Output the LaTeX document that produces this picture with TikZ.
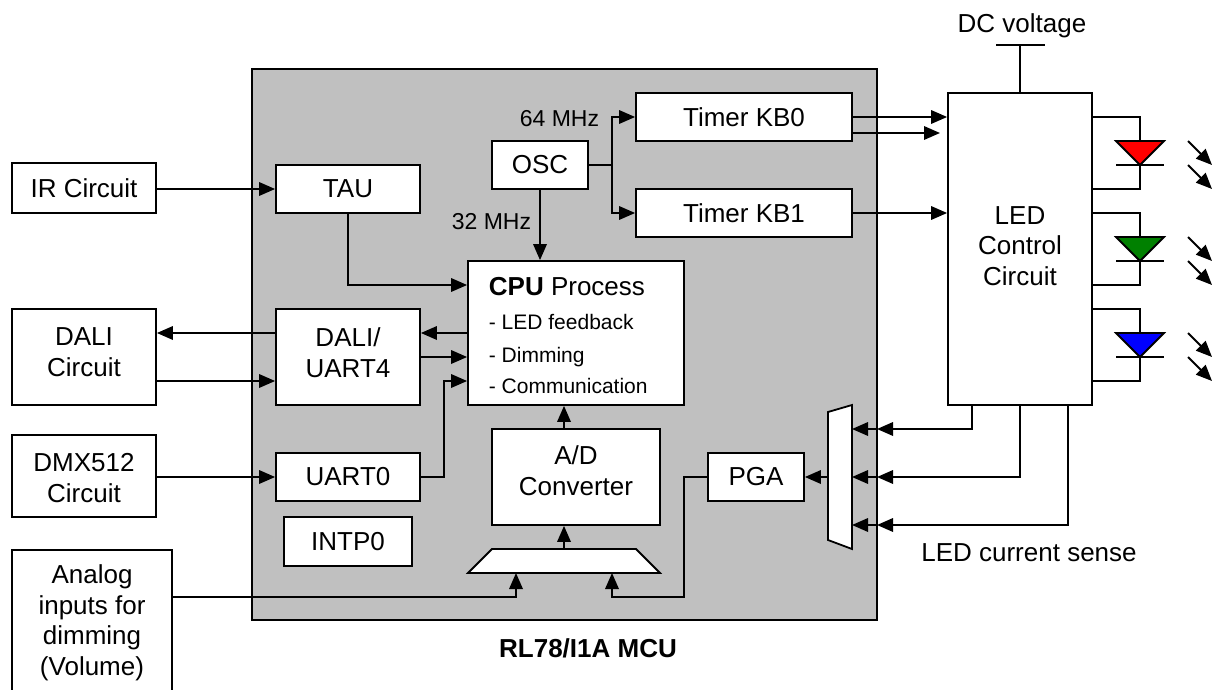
\documentclass[tikz,border=0pt]{standalone}
\usepackage{fontspec}
\setmainfont{Liberation Sans}
\usetikzlibrary{arrows.meta}
\definecolor{mcugray}{HTML}{C0C0C0}
\definecolor{ledred}{HTML}{FF0000}
\definecolor{ledgreen}{HTML}{008000}
\definecolor{ledblue}{HTML}{0000FF}
\newcommand\dgBig{\fontsize{26}{30.5}\selectfont}
\newcommand\dgMid{\fontsize{23}{27}\selectfont}
\newcommand\dgSmall{\fontsize{21}{25}\selectfont}
\begin{document}
\begin{tikzpicture}[x=1pt,y=-1pt,line width=1.8pt,
  box/.style={draw,fill=white,inner sep=0pt,font=\dgBig,align=center},
  lbl/.style={inner sep=0pt,font=\dgBig,align=center},
  arr/.style={-{Triangle[length=16pt,width=13.5pt]}}]
\useasboundingbox (0,0) rectangle (1213,690);
\clip (0,0) rectangle (1213,690);
% MCU
\node[draw,fill=mcugray,inner sep=0pt,minimum width=625pt,minimum height=551pt] (mcu) at (564.5,344.5) {};
\node[lbl,anchor=base,font=\dgBig\bfseries] (mculbl) at (588,657) {RL78/I1A MCU};
% boxes
\node[box,minimum width=144pt,minimum height=50pt] (ir) at (84,188) {IR Circuit};
\node[box,minimum width=144pt,minimum height=48pt] (tau) at (348,189) {TAU};
\node[box,minimum width=144pt,minimum height=96pt] (dalic) at (84,357) {};
\node[lbl,anchor=base] (dalictxt) at (84,376) {DALI\\Circuit};
\node[box,minimum width=144pt,minimum height=96pt] (dali) at (348,357) {};
\node[lbl,anchor=base] (dalitxt) at (348,377) {DALI/\\UART4};
\node[box,minimum width=144pt,minimum height=82pt] (dmx) at (84,476) {};
\node[lbl,anchor=base] (dmxtxt) at (84,502) {DMX512\\Circuit};
\node[box,minimum width=144pt,minimum height=48pt] (uart0) at (348,477) {UART0};
\node[box,minimum width=128pt,minimum height=49pt] (intp) at (348,541.5) {INTP0};
\node[box,minimum width=160pt,minimum height=144pt] (analog) at (92,622) {};
\node[lbl,anchor=base] (analogtxt) at (92,675) {Analog\\inputs for\\dimming\\(Volume)};
\node[box,minimum width=96pt,minimum height=48pt] (osc) at (540,165) {OSC};
\node[box,minimum width=216pt,minimum height=48pt] (kb0) at (744,117) {Timer KB0};
\node[box,minimum width=216pt,minimum height=48pt] (kb1) at (744,213) {Timer KB1};
\node[box,minimum width=216pt,minimum height=144pt] (cpu) at (576,333) {};
\node[inner sep=0pt,anchor=base west,font=\dgBig] (cputitle) at (488,295) {\textbf{CPU} Process};
\node[inner sep=0pt,anchor=base west,font=\dgSmall] (cpu1) at (488,329) {- LED feedback};
\node[inner sep=0pt,anchor=base west,font=\dgSmall] (cpu2) at (488,362) {- Dimming};
\node[inner sep=0pt,anchor=base west,font=\dgSmall] (cpu3) at (488,393) {- Communication};
\node[box,minimum width=168pt,minimum height=96pt] (adc) at (576,477) {};
\node[lbl,anchor=base] (adctxt) at (576,495) {A/D\\Converter};
\node[box,minimum width=96pt,minimum height=48pt] (pga) at (756,477) {PGA};
\node[box,minimum width=144pt,minimum height=312pt] (led) at (1020,249) {};
\node[lbl,anchor=base] (ledtxt) at (1020,285) {LED\\Control\\Circuit};
% clock labels
\node[inner sep=0pt,anchor=base east,font=\dgMid] (f64) at (600,127) {64 MHz};
\node[inner sep=0pt,anchor=base east,font=\dgMid] (f32) at (532,229) {32 MHz};
% DC voltage
\coordinate (dctop) at (1020,45);
\draw (led.north) -- (dctop);
\draw (996,45) -- (1045,45);
\node[lbl,anchor=base] (dclbl) at (1022,33) {DC voltage};
\node[lbl,anchor=base] (senselbl) at (1029,561) {LED current sense};
% connectors left
\draw[arr] (ir.east |- tau.west) -- (tau.west);
\draw[arr] (tau.south) |- (cpu.west |- 0,285);
\draw[arr] (osc.south) -- (osc.south |- cpu.north);
\coordinate (oscsplit) at (612,165);
\draw (osc.east) -- (oscsplit);
\draw[arr] (oscsplit) |- (kb0.west);
\draw[arr] (oscsplit) |- (kb1.west);
\draw[arr] (kb0.east |- 0,117) -- (led.west |- 0,117);
\coordinate (kb0end) at (940,133);
\draw[arr] (kb0.east |- kb0end) -- (kb0end);
\draw[arr] (kb1.east) -- (led.west |- kb1.east);
\draw[arr] (cpu.west |- 0,333) -- (dali.east |- 0,333);
\draw[arr] (dali.east |- 0,357) -- (cpu.west |- 0,357);
\coordinate (u0bend) at (444,381);
\draw[arr] (uart0.east) -| (u0bend) -- (cpu.west |- u0bend);
\draw[arr] (dali.west |- 0,333) -- (dalic.east |- 0,333);
\draw[arr] (dalic.east |- 0,381) -- (dali.west |- 0,381);
\draw[arr] (dmx.east |- uart0.west) -- (uart0.west);
% analog mux
\draw[fill=white] (468,573) -- (492,549) -- (636,549) -- (660,573) -- cycle;
\coordinate (amuxin1) at (516,573);
\coordinate (amuxin2) at (612,573);
\coordinate (amuxout) at (564,549);
\draw[arr] (analog.east |- 0,597) -| (amuxin1);
\draw[arr] (amuxout) -- (adc.south -| amuxout);
\draw[arr] (adc.north -| amuxout) -- (cpu.south -| amuxout);
\coordinate (pgabend) at (684,597);
\draw[arr] (pga.west) -| (pgabend) -| (amuxin2);
% sense mux
\draw[fill=white] (828,412) -- (852,405) -- (852,549) -- (828,540) -- cycle;
\coordinate (rmuxout) at (828,477);
\draw[arr] (rmuxout) -- (pga.east);
\foreach \sx/\sy in {972/429,1020/477,1068/525}{
  \coordinate (edge) at (877,\sy);
  \draw[arr] (led.south -| \sx,0) |- (edge);
  \draw[arr] (edge) -- (852,\sy);
}
% LEDs
\foreach \T/\c in {117/ledred,213/ledgreen,309/ledblue}{
  \draw (led.east |- 0,\T) -| (1140,\T+24);
  \draw[fill=\c] (1116,\T+24) -- (1164,\T+24) -- (1140,\T+48) -- cycle;
  \draw (1116,\T+48) -- (1164,\T+48);
  \draw (1140,\T+48) |- (led.east |- 0,\T+72);
  \draw[arr] (1188,\T+24) -- (1212,\T+48);
  \draw[arr] (1188,\T+48) -- (1212,\T+72);
}
\end{tikzpicture}
\end{document}
